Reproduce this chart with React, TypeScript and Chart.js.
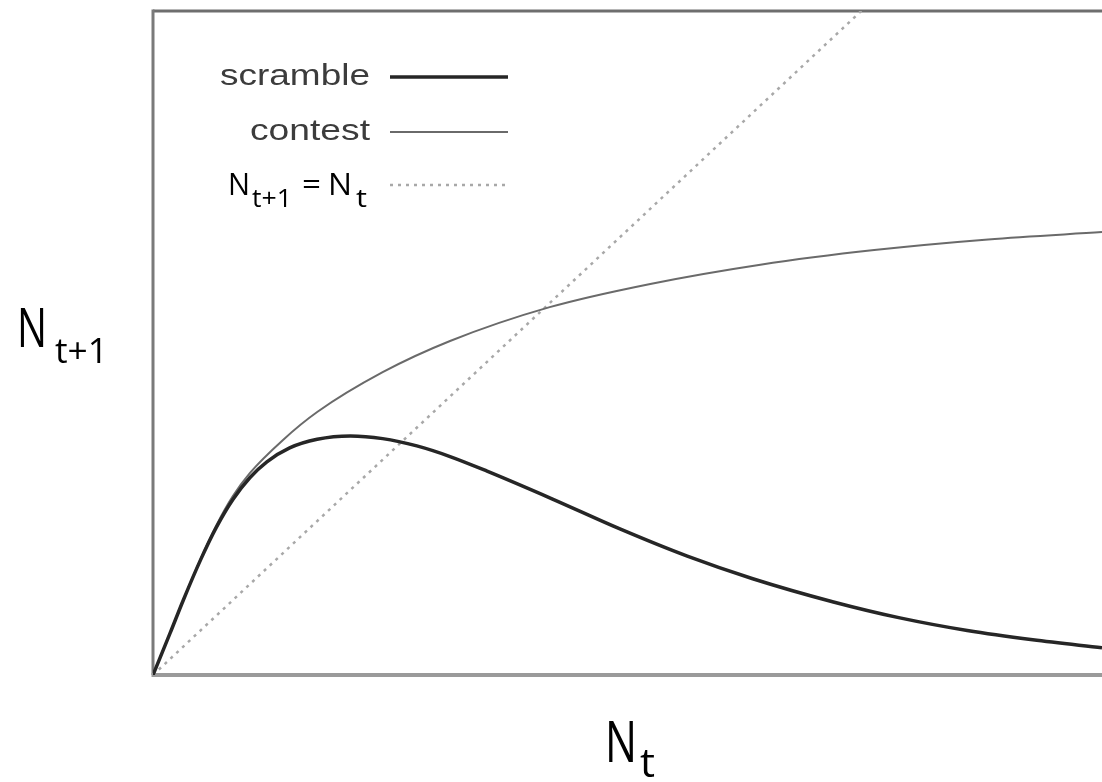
import React, { useEffect, useRef } from "react";
import { Chart, registerables } from "chart.js";

Chart.register(...registerables);

// ---- data (abstract population units; x = N_t, y = N_t+1) ----
const scrambleX = [0, 1.8, 3.2, 5.0, 6.7, 8.4, 10.2, 12.0, 14.4, 17.3, 20.8, 24.2, 27.8, 31.3, 35.2, 42.1, 49.2, 56.3, 63.2, 71.7, 78.7, 85.8, 92.7, 100];
const scrambleY = [0, 6.3, 11.3, 17.3, 22.3, 26.4, 29.7, 32.1, 34.2, 35.5, 36.0, 35.6, 34.5, 32.9, 30.7, 26.5, 22.0, 17.9, 14.5, 11.0, 8.6, 6.7, 5.3, 4.1];

const contestX = [0, 1.8, 3.2, 5.0, 6.7, 8.4, 10.2, 13.7, 17.3, 24.2, 31.3, 41.8, 52.4, 64, 76, 88, 100];
const contestY = [0, 6.3, 11.3, 17.4, 22.6, 26.9, 30.4, 35.4, 39.6, 45.6, 50.3, 55.4, 58.9, 61.8, 64.0, 65.6, 66.7];

const identityX = [0, 100];
const identityY = [0, 134];

const seriesLabels = ["scramble", "contest", "N_{t+1} = N_t"];
const xTitle = { base: "N", sub: "t" };
const yTitle = { base: "N", sub: "t+1" };

const pts = (xs: number[], ys: number[]) => xs.map((x, i) => ({ x, y: ys[i] }));

function fitText(ctx: CanvasRenderingContext2D, text: string, left: number, baseline: number, font: string, width: number, color: string) {
  ctx.save();
  ctx.font = font;
  ctx.fillStyle = color;
  ctx.textAlign = "left";
  ctx.textBaseline = "alphabetic";
  const w = ctx.measureText(text).width || 1;
  ctx.translate(left, baseline);
  ctx.scale(width / w, 1);
  ctx.fillText(text, 0, 0);
  ctx.restore();
}

const decorPlugin = {
  id: "decor",
  beforeDatasetsDraw(chart: any) {
    const { ctx, chartArea } = chart;
    const { left, top, right, bottom } = chartArea;
    ctx.save();
    ctx.lineCap = "butt";
    ctx.strokeStyle = "#6e6e6e";
    ctx.lineWidth = 3;
    ctx.beginPath();
    ctx.moveTo(left, top);
    ctx.lineTo(right, top);
    ctx.stroke();
    ctx.strokeStyle = "#7a7a7a";
    ctx.beginPath();
    ctx.moveTo(left, top - 1.5);
    ctx.lineTo(left, bottom);
    ctx.stroke();
    ctx.strokeStyle = "#9a9a9a";
    ctx.lineWidth = 4;
    ctx.beginPath();
    ctx.moveTo(left - 1.5, bottom);
    ctx.lineTo(right, bottom);
    ctx.stroke();
    ctx.restore();
  },
  afterDraw(chart: any) {
    const { ctx } = chart;
    const ds = chart.data.datasets;
    const sans = "'Liberation Sans', Arial, sans-serif";
    const title = "'Open Sans', 'Noto Sans', sans-serif";

    // legend
    fitText(ctx, seriesLabels[0], 220, 85, `30px ${sans}`, 150, "#3c3c3c");
    fitText(ctx, seriesLabels[1], 250, 140, `30px ${sans}`, 120, "#3c3c3c");
    // N_{t+1} = N_t
    fitText(ctx, "N", 228, 195, `31px ${title}`, 22, "#000");
    fitText(ctx, "t+1", 252, 207, `26px ${title}`, 40, "#000");
    fitText(ctx, "=", 302, 195, `31px ${title}`, 19, "#000");
    fitText(ctx, "N", 328, 195, `31px ${title}`, 24, "#000");
    fitText(ctx, "t", 356, 207, `26px ${title}`, 11, "#000");

    const sample = (i: number, y: number) => {
      const d = ds[i];
      ctx.save();
      ctx.strokeStyle = d.borderColor;
      ctx.lineWidth = d.borderWidth;
      ctx.setLineDash(d.borderDash || []);
      ctx.beginPath();
      ctx.moveTo(390, y);
      ctx.lineTo(508, y);
      ctx.stroke();
      ctx.restore();
    };
    sample(0, 77);
    sample(1, 132);
    sample(2, 185);

    // axis titles
    fitText(ctx, yTitle.base, 17, 347, `54px ${title}`, 30, "#000");
    fitText(ctx, yTitle.sub, 55, 363, `34px ${title}`, 53, "#000");
    fitText(ctx, xTitle.base, 605, 762, `56px ${title}`, 32, "#000");
    fitText(ctx, xTitle.sub, 640, 777, `40px ${title}`, 15, "#000");
  },
};

export default function App() {
  const ref = useRef<HTMLCanvasElement | null>(null);
  useEffect(() => {
    if (!ref.current) return;
    const chart = new Chart(ref.current, {
      type: "line",
      data: {
        datasets: [
          {
            label: seriesLabels[0],
            data: pts(scrambleX, scrambleY),
            borderColor: "#262626",
            borderWidth: 3.5,
            pointRadius: 0,
            cubicInterpolationMode: "monotone",
            fill: false,
          },
          {
            label: seriesLabels[1],
            data: pts(contestX, contestY),
            borderColor: "#6a6a6a",
            borderWidth: 2,
            pointRadius: 0,
            cubicInterpolationMode: "monotone",
            fill: false,
          },
          {
            label: seriesLabels[2],
            data: pts(identityX, identityY),
            borderColor: "#a8a8a8",
            borderWidth: 2.5,
            borderDash: [3, 5],
            pointRadius: 0,
            tension: 0,
            fill: false,
          },
        ],
      } as any,
      options: {
        animation: false,
        responsive: false,
        parsing: true,
        layout: { padding: { left: 153, top: 11, right: 0, bottom: 107 } },
        plugins: { legend: { display: false }, tooltip: { enabled: false } },
        scales: {
          x: { type: "linear", min: 0, max: 100, display: false },
          y: { type: "linear", min: 0, max: 100, display: false },
        },
      } as any,
      plugins: [decorPlugin],
    });
    return () => chart.destroy();
  }, []);
  return (
    <div style={{ position: "absolute", left: 0, top: 0, width: 1102, height: 782, background: "#fff" }}>
      <canvas ref={ref} width={1102} height={782} style={{ display: "block" }} />
    </div>
  );
}
